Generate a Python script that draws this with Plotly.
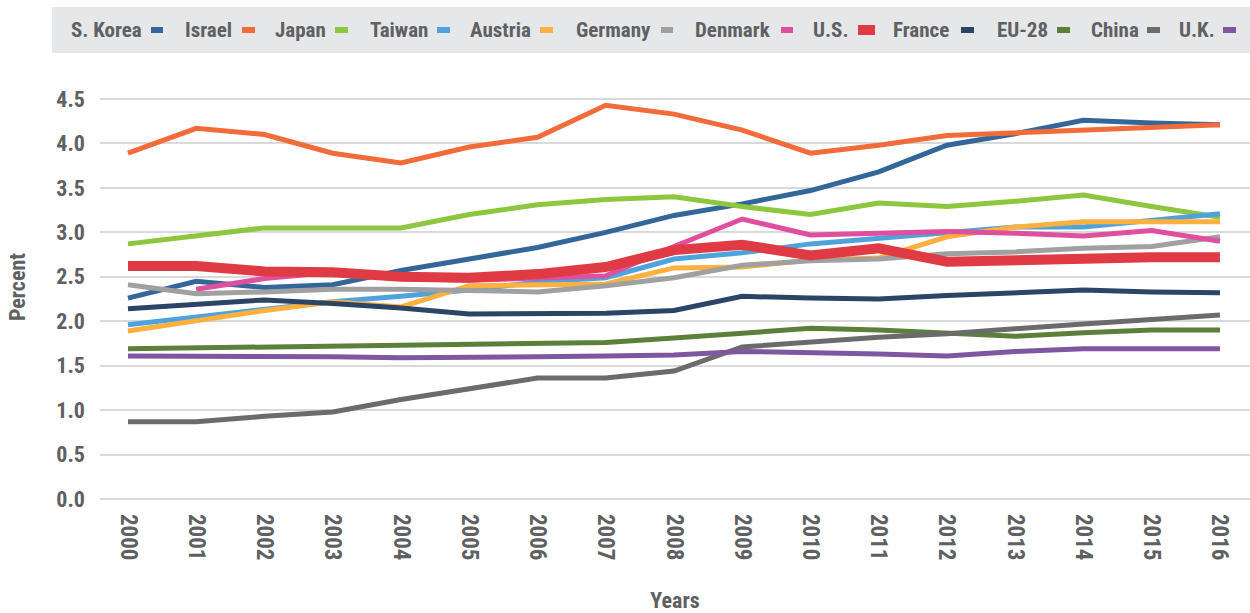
import plotly.graph_objects as go

years = list(range(2000, 2017))
year_labels = [str(y) for y in years]

s_korea = [2.26, 2.45, 2.38, 2.41, 2.57, 2.70, 2.83, 3.00, 3.19, 3.32, 3.47, 3.68, 3.98, 4.11, 4.26, 4.23, 4.21]
israel = [3.89, 4.17, 4.10, 3.89, 3.78, 3.96, 4.07, 4.43, 4.33, 4.15, 3.89, 3.98, 4.09, 4.12, 4.15, 4.19, 4.21]
japan = [2.87, 2.96, 3.05, 3.05, 3.05, 3.20, 3.31, 3.37, 3.40, 3.29, 3.20, 3.33, 3.29, 3.35, 3.42, 3.29, 3.17]
taiwan = [1.96, 2.05, 2.14, 2.22, 2.28, 2.35, 2.44, 2.49, 2.70, 2.77, 2.87, 2.93, 3.00, 3.06, 3.06, 3.14, 3.21]
austria = [1.89, 2.01, 2.12, 2.22, 2.16, 2.40, 2.41, 2.42, 2.60, 2.61, 2.69, 2.71, 2.95, 3.06, 3.12, 3.12, 3.12]
germany = [2.41, 2.31, 2.33, 2.36, 2.36, 2.35, 2.33, 2.40, 2.49, 2.63, 2.68, 2.70, 2.76, 2.78, 2.82, 2.84, 2.95]
denmark = [None, 2.36, 2.48, 2.55, 2.48, 2.46, 2.48, 2.51, 2.84, 3.15, 2.97, 2.99, 3.01, 2.99, 2.96, 3.02, 2.90]
us = [2.62, 2.62, 2.56, 2.55, 2.50, 2.49, 2.53, 2.61, 2.80, 2.86, 2.74, 2.82, 2.67, 2.69, 2.72, 2.72, 2.72]
france = [2.14, 2.19, 2.24, 2.20, 2.15, 2.08, 2.08, 2.09, 2.12, 2.28, 2.26, 2.25, 2.29, 2.32, 2.35, 2.33, 2.32]
eu28 = [1.69, 1.70, 1.71, 1.72, 1.73, 1.74, 1.75, 1.76, 1.81, 1.86, 1.92, 1.90, 1.87, 1.83, 1.87, 1.90, 1.90]
china = [0.87, 0.87, 0.93, 0.98, 1.12, 1.24, 1.36, 1.36, 1.44, 1.71, 1.77, 1.82, 1.86, 1.92, 1.97, 2.02, 2.07]
uk = [1.61, 1.61, 1.61, 1.60, 1.59, 1.59, 1.60, 1.61, 1.62, 1.66, 1.65, 1.63, 1.61, 1.66, 1.69, 1.69, 1.69]

series = [
    ("S. Korea", s_korea, "#336699", 5),
    ("Israel", israel, "#F26B3A", 5),
    ("Japan", japan, "#8DC63F", 5),
    ("Taiwan", taiwan, "#4FA3DC", 5),
    ("Austria", austria, "#FBB040", 5),
    ("Germany", germany, "#A0A0A0", 5),
    ("Denmark", denmark, "#E04E9E", 5),
    ("U.S.", us, "#E03A45", 10),
    ("France", france, "#2C4466", 5),
    ("EU-28", eu28, "#5B803A", 5),
    ("China", china, "#6B6B6B", 5),
    ("U.K.", uk, "#7E57A0", 5),
]

# legend layout in pixels: (label right edge, swatch start, swatch end)
legend_pos = [
    (144, 151, 163), (234, 242, 255), (328, 335, 348), (430, 437, 450),
    (533, 540, 553), (653, 661, 673), (773, 781, 793), (851, 858, 875),
    (951, 961, 974), (1050, 1057, 1070), (1141, 1147, 1160), (1217, 1223, 1236),
]

FONT = "Liberation Sans Narrow, Roboto Condensed, DejaVu Sans Condensed, Arial Narrow, sans-serif"
TXT = "#5f6062"
W, H = 1250, 613
ML, MR, MT, MB = 100, 0, 75, 114


def px_x(p):
    return (p - ML) / (W - ML - MR)


def px_y(p):
    return (H - MB - p) / (H - MT - MB)


fig = go.Figure()
for name, vals, color, width in series:
    fig.add_trace(go.Scatter(
        x=years, y=vals, name=name, mode="lines",
        line=dict(color=color, width=width),
        showlegend=False,
    ))

shapes = [dict(type="rect", xref="paper", yref="paper",
               x0=px_x(52), x1=px_x(1250), y0=px_y(53), y1=px_y(7),
               fillcolor="#E6E7E8", line=dict(width=0), layer="below")]
annotations = []
for (name, vals, color, width), (lab_end, sw0, sw1) in zip(series, legend_pos):
    annotations.append(dict(
        text=name, xref="paper", yref="paper", x=px_x(lab_end), y=px_y(30),
        xanchor="right", yanchor="middle", showarrow=False,
        font=dict(family=FONT, size=21, color=TXT, weight="bold"),
    ))
    shapes.append(dict(
        type="line", xref="paper", yref="paper",
        x0=px_x(sw0), x1=px_x(sw1), y0=px_y(30), y1=px_y(30),
        line=dict(color=color, width=6 if width < 8 else 10),
    ))

fig.update_layout(
    width=W, height=H,
    margin=dict(l=ML, r=MR, t=MT, b=MB),
    plot_bgcolor="white", paper_bgcolor="white",
    font=dict(family=FONT, color=TXT, weight="bold"),
    shapes=shapes,
    annotations=annotations,
    xaxis=dict(
        range=[1999.59, 2016.44],
        tickvals=years, ticktext=year_labels,
        tickangle=90, tickfont=dict(size=23, color=TXT),
        showgrid=False, zeroline=False, showline=False,
        ticks="", ticklabelstandoff=14,
        title=dict(text="Years", font=dict(size=22, color=TXT), standoff=33),
        automargin=False,
    ),
    yaxis=dict(
        range=[0, 4.77],
        tickvals=[0, 0.5, 1, 1.5, 2, 2.5, 3, 3.5, 4, 4.5],
        tickformat=".1f",
        tickfont=dict(size=22, color=TXT),
        showgrid=True, gridcolor="#D9D9D9", gridwidth=1.5,
        zeroline=True, zerolinecolor="#D9D9D9", zerolinewidth=1.5,
        showline=False, ticks="", ticklabelstandoff=14,
        title=dict(text="Percent", font=dict(size=22, color=TXT), standoff=24),
        automargin=False,
    ),
)

fig.write_html("out.html", config={"displayModeBar": False},
               post_script="document.body.style.margin='0';")
